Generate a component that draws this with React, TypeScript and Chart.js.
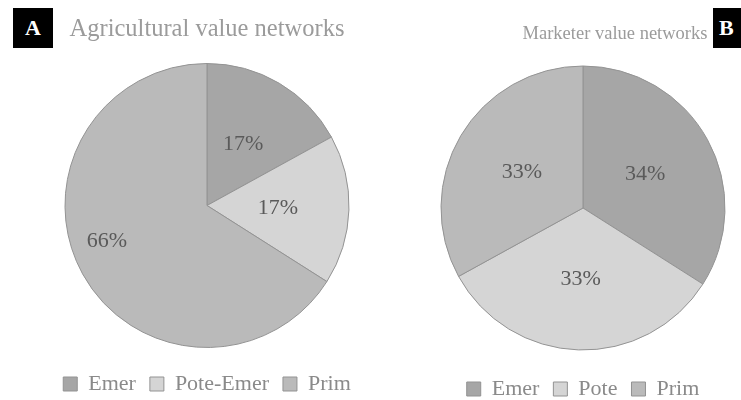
import React, { useEffect, useRef } from "react";
import { Chart, registerables } from "chart.js";

Chart.register(...registerables);

// ---- Data ----
const agriTitle = "Agricultural value networks";
const agriLabels = ["Emer", "Pote-Emer", "Prim"];
const agriValues = [17, 17, 66];

const marketTitle = "Marketer value networks";
const marketLabels = ["Emer", "Pote", "Prim"];
const marketValues = [34, 33, 33];

const sliceColors = ["#a6a6a6", "#d5d5d5", "#bababa"];
const SERIF = "'Liberation Serif', 'Times New Roman', serif";

const pctLabels = {
  id: "pctLabels",
  afterDatasetsDraw(chart: any, _args: any, opts: any) {
    const ctx = chart.ctx;
    const meta = chart.getDatasetMeta(0);
    const data = chart.data.datasets[0].data;
    ctx.save();
    ctx.font = `${opts.size || 22}px ${SERIF}`;
    ctx.fillStyle = opts.color || "#595959";
    ctx.textAlign = "center";
    ctx.textBaseline = "middle";
    meta.data.forEach((arc: any, i: number) => {
      const p = arc.getProps(["x", "y", "startAngle", "endAngle", "outerRadius"], true);
      const shift = ((opts.shifts && opts.shifts[i]) || 0) * Math.PI / 180;
      const mid = (p.startAngle + p.endAngle) / 2 + shift;
      const f = (opts.factors && opts.factors[i]) || 0.5;
      ctx.fillText(
        data[i] + "%",
        p.x + Math.cos(mid) * p.outerRadius * f,
        p.y + Math.sin(mid) * p.outerRadius * f
      );
    });
    ctx.restore();
  },
};

function PieChart(props: any) {
  const ref = useRef<HTMLCanvasElement>(null);
  useEffect(() => {
    if (!ref.current) return;
    const chart = new Chart(ref.current, {
      type: "pie",
      data: {
        labels: props.labels,
        datasets: [
          {
            data: props.values,
            backgroundColor: sliceColors,
            borderColor: "#939393",
            borderWidth: 1,
            radius: 142,
          } as any,
        ],
      },
      options: {
        animation: false,
        responsive: false,
        maintainAspectRatio: false,
        layout: { padding: { top: props.padTop, bottom: props.padBottom } },
        plugins: {
          title: { display: false },
          tooltip: { enabled: false },
          legend: {
            display: true,
            position: "bottom",
            labels: {
              boxWidth: 14,
              boxHeight: 14,
              padding: 14,
              color: "#8a8a8a",
              font: { family: SERIF, size: props.legendSize },
            },
          },
          pctLabels: { factors: props.factors, shifts: props.shifts, size: 22, color: "#5a5a5a" },
        } as any,
      },
      plugins: [pctLabels],
    });
    return () => chart.destroy();
  }, []);
  return <canvas ref={ref} width={props.width} height={400} />;
}

export default function App() {
  return (
    <div
      style={{
        position: "absolute",
        left: 0,
        top: 0,
        width: 741,
        height: 400,
        background: "#ffffff",
        overflow: "hidden",
        fontFamily: SERIF,
      }}
    >
      <div style={{ position: "absolute", left: 30, top: 0 }}>
        <PieChart
          labels={agriLabels}
          values={agriValues}
          factors={[0.5, 0.5, 0.75]}
          shifts={[0, 0, 9]}
          padTop={52}
          padBottom={-5}
          legendSize={22}
          width={354}
        />
      </div>
      <div style={{ position: "absolute", left: 433, top: 0 }}>
        <PieChart
          labels={marketLabels}
          values={marketValues}
          factors={[0.5, 0.5, 0.5]}
          shifts={[0, 0, 0]}
          padTop={52}
          padBottom={-10}
          legendSize={22}
          width={300}
        />
      </div>
      <div
        style={{
          position: "absolute",
          left: 0,
          width: 414,
          top: 13,
          textAlign: "center",
          fontSize: 24.5,
          lineHeight: "30px",
          color: "#9b9b9b",
        }}
      >
        {agriTitle}
      </div>
      <div
        style={{
          position: "absolute",
          left: 515,
          width: 200,
          top: 20,
          textAlign: "center",
          fontSize: 18.5,
          lineHeight: "26px",
          color: "#9b9b9b",
        }}
      >
        {marketTitle}
      </div>
      <div
        style={{
          position: "absolute",
          left: 13,
          top: 8,
          width: 40,
          height: 40,
          background: "#000",
          color: "#fff",
          fontWeight: "bold",
          fontSize: 22,
          lineHeight: "40px",
          textAlign: "center",
        }}
      >
        A
      </div>
      <div
        style={{
          position: "absolute",
          left: 713,
          top: 8,
          width: 40,
          height: 40,
          background: "#000",
          color: "#fff",
          fontWeight: "bold",
          fontSize: 22,
          lineHeight: "40px",
          paddingLeft: 6,
          boxSizing: "border-box",
        }}
      >
        B
      </div>
    </div>
  );
}
